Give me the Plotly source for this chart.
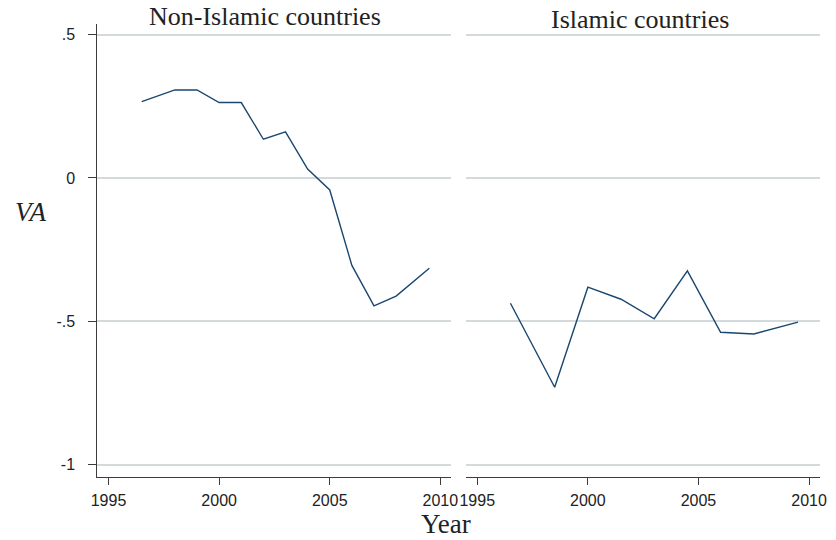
import plotly.graph_objects as go

# Data
years_non = [1996.5, 1998, 1999, 2000, 2001, 2002, 2003, 2004, 2005, 2006, 2007, 2008, 2009.5]
va_non = [0.266, 0.307, 0.307, 0.263, 0.263, 0.135, 0.161, 0.031, -0.042, -0.305, -0.446, -0.412, -0.315]

years_isl = [1996.5, 1998.5, 2000, 2001.5, 2003, 2004.5, 2006, 2007.5, 2009.5]
va_isl = [-0.437, -0.730, -0.381, -0.423, -0.491, -0.324, -0.538, -0.544, -0.503]

panel_titles = ["Non-Islamic countries", "Islamic countries"]
x_ticks = [1995, 2000, 2005, 2010]
y_ticks = [0.5, 0, -0.5, -1]
y_ticklabels = [".5", "0", "-.5", "-1"]

W, H = 836, 540
LINE = "#1a476f"
GRID = "#d4dadc"
AXIS = "#3c3c3c"

def px_x(p):
    return p / W

def px_y(p):
    return 1 - p / H

fig = go.Figure()
fig.add_trace(go.Scatter(x=years_non, y=va_non, mode="lines",
                         line=dict(color=LINE, width=1.4), xaxis="x", yaxis="y",
                         showlegend=False))
fig.add_trace(go.Scatter(x=years_isl, y=va_isl, mode="lines",
                         line=dict(color=LINE, width=1.4), xaxis="x2", yaxis="y2",
                         showlegend=False))

xr = [1994.5, 2010.5]
yr = [-1.043, 0.537]
tickfont = dict(family="Liberation Sans, Arial, sans-serif", size=16, color="#222222")

common_x = dict(range=xr, tickvals=x_ticks, ticks="outside", ticklen=7, tickwidth=1.3,
                tickcolor=AXIS, showline=True, linecolor=AXIS, linewidth=1.3,
                showgrid=False, zeroline=False, tickfont=tickfont, ticklabelstandoff=2)

fig.update_layout(
    width=W, height=H,
    margin=dict(l=0, r=0, t=0, b=0),
    paper_bgcolor="white", plot_bgcolor="white",
    xaxis=dict(domain=[px_x(92), px_x(452)], anchor="y", **common_x),
    xaxis2=dict(domain=[px_x(467), px_x(827)], anchor="y2", **common_x),
    yaxis=dict(domain=[px_y(477), px_y(24)], range=yr, anchor="x",
               tickvals=y_ticks, ticktext=y_ticklabels, ticks="outside", ticklen=8,
               tickwidth=1.3, tickcolor=AXIS, showline=True, linecolor=AXIS, linewidth=1.3,
               showgrid=True, gridcolor=GRID, gridwidth=1.5, zeroline=False,
               tickfont=tickfont, ticklabelstandoff=10),
    yaxis2=dict(domain=[px_y(477), px_y(24)], range=yr, anchor="x2",
                tickvals=y_ticks, showticklabels=False, ticks="", showline=False,
                showgrid=True, gridcolor=GRID, gridwidth=1.5, zeroline=False),
    showlegend=False,
)

serif = "Liberation Serif, Times New Roman, serif"
fig.add_annotation(text=panel_titles[0], x=px_x(262), y=px_y(17), xref="paper", yref="paper",
                   xanchor="center", yanchor="middle", showarrow=False,
                   font=dict(family=serif, size=26, color="#222222"))
fig.add_annotation(text=panel_titles[1], x=px_x(643.5), y=px_y(20), xref="paper", yref="paper",
                   xanchor="center", yanchor="middle", showarrow=False,
                   font=dict(family=serif, size=26, color="#222222"))
fig.add_annotation(text="Year", x=px_x(446), y=px_y(524), xref="paper", yref="paper",
                   xanchor="center", yanchor="middle", showarrow=False,
                   font=dict(family=serif, size=27, color="#222222"))
fig.add_annotation(text="<i>VA</i>", x=px_x(24), y=px_y(212), xref="paper", yref="paper",
                   xanchor="center", yanchor="middle", showarrow=False,
                   font=dict(family=serif, size=27, color="#222222"))

fig.write_html("out.html")
